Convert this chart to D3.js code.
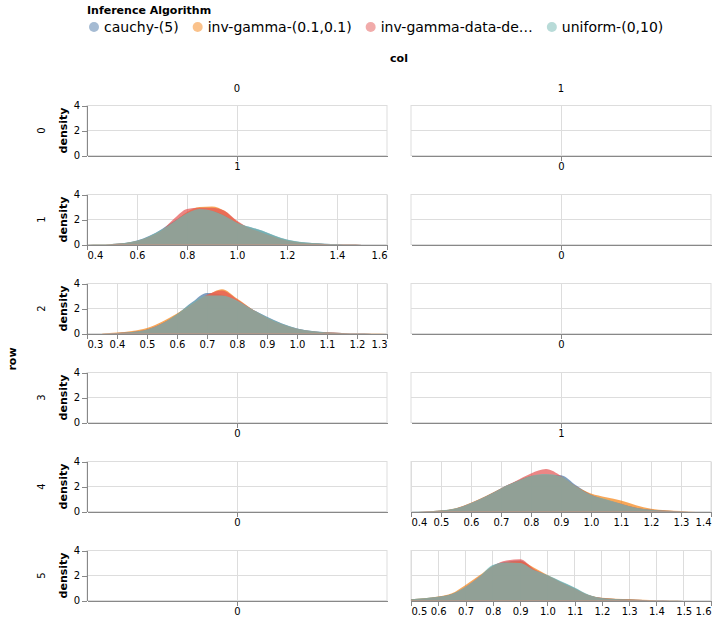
<!DOCTYPE html>
<meta charset="utf-8">
<style>
  body { margin: 0; background: #fff; }
  svg { font-family: "DejaVu Sans", sans-serif; }
  .cell rect { fill: none; stroke: #ddd; }
  .grid line { stroke: #ddd; shape-rendering: crispEdges; }
  .axis path, .axis line { stroke: #888; shape-rendering: crispEdges; }
  .axis text { font-size: 10px; fill: #000; font-family: "DejaVu Sans", sans-serif; }
  .title { font-size: 11px; font-weight: bold; }
  .header { font-size: 10px; }
</style>
<body>
<script src="https://d3js.org/d3.v7.min.js"></script>
<script>
// legend entries, drawn in this order (last one on top)
var algorithms = ["cauchy-(5)", "inv-gamma-(0.1,0.1)", "inv-gamma-data-de\u2026", "uniform-(0,10)"];
var colors = ["#4c78a8", "#f58518", "#e45756", "#72b7b2"];
var rowLabels = ["0", "1", "2", "3", "4", "5"];
var colLabels = ["0", "1"];

// panels with no density: [row, col, single x tick label]
var emptyPanels = [[0, 0, "1"], [3, 0, "0"], [4, 0, "0"], [5, 0, "0"],
                   [0, 1, "0"], [1, 1, "0"], [2, 1, "0"], [3, 1, "1"]];

// row 1, col 0
var xsA = [0.40,0.45,0.50,0.55,0.60,0.65,0.70,0.75,0.80,0.85,0.90,0.95,1.00,1.05,1.10,1.15,1.20,1.25,1.30,1.35,1.40,1.45,1.50,1.55,1.60];
var densA = [
  [0.01,0.02,0.05,0.13,0.32,0.70,1.25,1.90,2.50,2.80,2.70,2.35,1.75,1.40,1.10,0.70,0.38,0.20,0.12,0.07,0.04,0.02,0.01,0.01,0],
  [0.01,0.02,0.04,0.11,0.28,0.62,1.15,1.85,2.60,3.00,3.05,2.70,1.85,1.30,0.95,0.60,0.32,0.17,0.09,0.05,0.03,0.02,0.01,0.01,0],
  [0.01,0.01,0.03,0.10,0.27,0.60,1.15,2.10,2.85,2.95,2.95,2.70,1.90,1.30,0.95,0.58,0.30,0.15,0.08,0.05,0.03,0.02,0.01,0,0],
  [0.01,0.02,0.05,0.13,0.31,0.66,1.20,1.85,2.50,2.85,2.70,2.30,1.75,1.42,1.12,0.72,0.40,0.22,0.12,0.07,0.04,0.02,0.01,0.01,0]
];

// row 2, col 0
var xsB = [0.35,0.40,0.45,0.50,0.55,0.60,0.65,0.70,0.75,0.80,0.85,0.90,0.95,1.00,1.05,1.10,1.15,1.20,1.25,1.30];
var densB = [
  [0.01,0.05,0.13,0.32,0.80,1.55,2.50,3.25,3.10,2.55,1.95,1.35,0.80,0.40,0.20,0.10,0.05,0.02,0.01,0],
  [0.02,0.08,0.20,0.45,0.95,1.60,2.35,3.05,3.55,2.80,1.95,1.25,0.72,0.35,0.17,0.08,0.05,0.03,0.02,0.01],
  [0.01,0.05,0.13,0.33,0.80,1.50,2.35,3.10,3.45,2.75,1.95,1.25,0.75,0.38,0.18,0.08,0.04,0.02,0.01,0],
  [0.01,0.05,0.13,0.32,0.80,1.55,2.45,3.05,3.05,2.65,1.95,1.30,0.78,0.40,0.20,0.09,0.04,0.02,0.01,0]
];

// row 4, col 1
var xsC = [0.40,0.45,0.50,0.55,0.60,0.65,0.70,0.75,0.80,0.85,0.90,0.95,1.00,1.05,1.10,1.15,1.20,1.25,1.30,1.35];
var densC = [
  [0.01,0.03,0.08,0.25,0.65,1.20,1.85,2.40,2.85,2.95,2.90,2.10,1.35,0.95,0.60,0.30,0.14,0.07,0.03,0.01],
  [0,0.02,0.08,0.27,0.70,1.25,1.85,2.40,2.85,2.95,2.75,2.00,1.45,1.15,0.88,0.50,0.22,0.10,0.04,0.01],
  [0,0.02,0.07,0.25,0.68,1.22,1.85,2.45,3.05,3.40,2.85,2.00,1.35,0.95,0.62,0.30,0.14,0.06,0.03,0.01],
  [0.01,0.02,0.08,0.26,0.68,1.22,1.85,2.40,2.85,3.00,2.80,2.00,1.35,0.98,0.62,0.30,0.14,0.07,0.03,0.01]
];

// row 5, col 1
var xsD = [0.50,0.55,0.60,0.65,0.70,0.75,0.80,0.85,0.90,0.95,1.00,1.05,1.10,1.15,1.20,1.25,1.30,1.35,1.40,1.45,1.50,1.55];
var densD = [
  [0.10,0.18,0.30,0.52,1.05,1.85,2.80,3.10,3.20,2.45,2.00,1.50,1.00,0.45,0.20,0.13,0.09,0.05,0.03,0.02,0.01,0.01],
  [0.10,0.18,0.32,0.58,1.25,2.00,2.75,3.05,3.15,2.65,2.05,1.45,0.95,0.45,0.22,0.15,0.12,0.06,0.03,0.02,0.01,0],
  [0.08,0.15,0.28,0.50,1.10,1.90,2.75,3.20,3.30,2.55,2.00,1.45,0.95,0.45,0.20,0.12,0.08,0.04,0.02,0.01,0.01,0],
  [0.10,0.18,0.30,0.52,1.10,1.90,2.85,3.05,3.00,2.45,2.05,1.55,1.05,0.48,0.20,0.12,0.08,0.04,0.02,0.01,0.01,0.01]
];

var densityPanels = [
  {row: 1, col: 0, xs: xsA, dens: densA},
  {row: 2, col: 0, xs: xsB, dens: densB},
  {row: 4, col: 1, xs: xsC, dens: densC},
  {row: 5, col: 1, xs: xsD, dens: densD}
];

// layout
var W = 718, H = 623;
var cellW = 300, cellH = 50;
var colX = [87, 411];
var rowTop = 105.5, rowStep = 89;

var svg = d3.select("body").append("svg")
    .attr("width", W)
    .attr("height", H);

// shared y scale
var allMax = d3.max(densityPanels, function(p) { return d3.max(p.dens, function(s) { return d3.max(s); }); });
var y = d3.scaleLinear().domain([0, allMax]).nice(2).range([cellH, 0]);
var yTicks = y.ticks(2);

function panel(r, c) {
  return svg.append("g")
    .attr("class", "cell")
    .attr("transform", "translate(" + colX[c] + "," + (rowTop + r * rowStep) + ")");
}

function drawFrame(g, xTickPos) {
  g.append("rect").attr("width", cellW).attr("height", cellH);
  var grid = g.append("g").attr("class", "grid");
  grid.selectAll(".hg").data(yTicks).enter().append("line")
    .attr("x1", 0).attr("x2", cellW)
    .attr("y1", function(d) { return y(d); })
    .attr("y2", function(d) { return y(d); });
  grid.selectAll(".vg").data(xTickPos).enter().append("line")
    .attr("y1", 0).attr("y2", cellH)
    .attr("x1", function(d) { return d; }).attr("x2", function(d) { return d; });
}

function drawYAxis(g, c) {
  if (c !== 0) return;
  g.append("g").attr("class", "axis")
    .call(d3.axisLeft(y).tickValues(yTicks).tickFormat(d3.format("d"))
      .tickSize(5).tickSizeOuter(0).tickPadding(2));
  g.append("text").attr("class", "title")
    .attr("transform", "translate(-20," + (cellH / 2) + ") rotate(-90)")
    .attr("text-anchor", "middle")
    .text("density");
}

// empty cells: one centred x tick
emptyPanels.forEach(function(e) {
  var g = panel(e[0], e[1]);
  var x = d3.scalePoint().domain([e[2]]).range([0, cellW]).padding(0.5);
  drawFrame(g, [x(e[2])]);
  drawYAxis(g, e[1]);
  g.append("g").attr("class", "axis")
    .attr("transform", "translate(0," + cellH + ")")
    .call(d3.axisBottom(x).tickSize(5).tickSizeOuter(0).tickPadding(2));
});

// density cells
var area = d3.area()
  .curve(d3.curveMonotoneX);

densityPanels.forEach(function(p) {
  var g = panel(p.row, p.col);
  var x = d3.scaleLinear().domain(d3.extent(p.xs)).nice(8).range([0, cellW]);
  var ticks = x.ticks(8);
  drawFrame(g, ticks.map(function(t) { return x(t); }));

  area.x(function(d) { return x(d[0]); })
      .y0(y(0))
      .y1(function(d) { return y(d[1]); });

  g.selectAll(".area").data(p.dens).enter().append("path")
    .attr("class", "area")
    .attr("fill", function(d, i) { return colors[i]; })
    .attr("fill-opacity", 0.72)
    .attr("d", function(s) { return area(p.xs.map(function(xv, i) { return [xv, s[i]]; })); });

  drawYAxis(g, p.col);
  var ax = g.append("g").attr("class", "axis")
    .attr("transform", "translate(0," + cellH + ")")
    .call(d3.axisBottom(x).tickValues(ticks).tickFormat(d3.format(".1f"))
      .tickSize(5).tickSizeOuter(0).tickPadding(2));
  var labels = ax.selectAll(".tick text");
  var n = labels.size();
  labels.attr("text-anchor", function(d, i) {
    return i === 0 ? "start" : (i === n - 1 ? "end" : "middle");
  });
});

// row headers
svg.selectAll(".rowlab").data(rowLabels).enter().append("text")
  .attr("class", "header")
  .attr("text-anchor", "middle")
  .attr("transform", function(d, i) {
    return "translate(45," + (rowTop + i * rowStep + cellH / 2) + ") rotate(-90)";
  })
  .text(function(d) { return d; });

svg.append("text").attr("class", "title")
  .attr("text-anchor", "middle")
  .attr("transform", "translate(16,359) rotate(-90)")
  .text("row");

// column headers
svg.selectAll(".collab").data(colLabels).enter().append("text")
  .attr("class", "header")
  .attr("text-anchor", "middle")
  .attr("x", function(d, i) { return colX[i] + cellW / 2; })
  .attr("y", 92)
  .text(function(d) { return d; });

svg.append("text").attr("class", "title")
  .attr("text-anchor", "middle")
  .attr("x", (colX[0] + colX[1] + cellW) / 2)
  .attr("y", 62)
  .text("col");

// legend
var legend = svg.append("g").attr("transform", "translate(87,0)");
legend.append("text").attr("class", "title")
  .attr("x", 0).attr("y", 14)
  .text("Inference Algorithm");

var lx = 7;
algorithms.forEach(function(name, i) {
  legend.append("circle")
    .attr("cx", lx).attr("cy", 27).attr("r", 5)
    .attr("fill", colors[i]).attr("fill-opacity", 0.5);
  var t = legend.append("text")
    .attr("x", lx + 10).attr("y", 32)
    .style("font-size", "14px")
    .text(name);
  lx = lx + 10 + t.node().getComputedTextLength() + 19;
});
</script>
</body>
